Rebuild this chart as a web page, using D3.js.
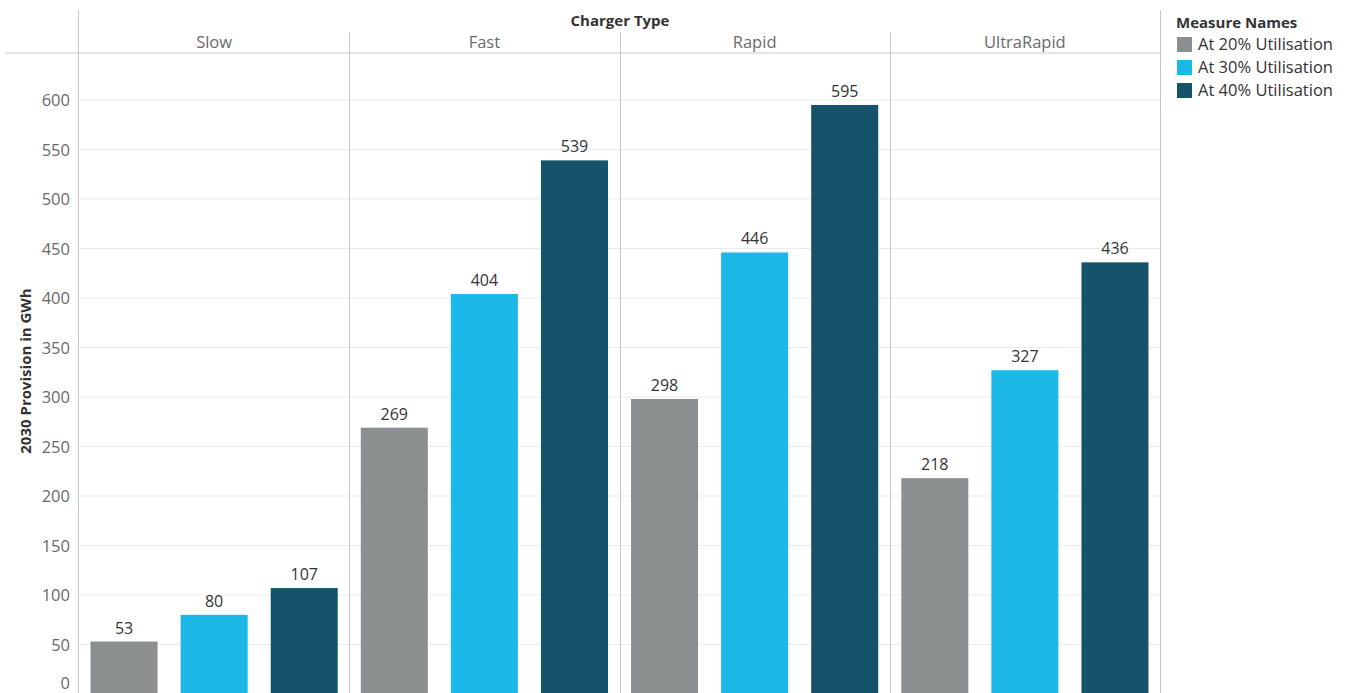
<!DOCTYPE html>
<html>
<head>
<meta charset="utf-8">
<script src="https://cdn.jsdelivr.net/npm/d3@7"></script>
<style>
  body { margin: 0; background: #fff; }
  text { font-family: "Open Sans", "Noto Sans", sans-serif; }
</style>
</head>
<body>
<svg id="chart" width="1351" height="693"></svg>
<script>
let chargerTypes = ["Slow", "Fast", "Rapid", "UltraRapid"];
let measures = ["At 20% Utilisation", "At 30% Utilisation", "At 40% Utilisation"];
let at20 = [53, 269, 298, 218];
let at30 = [80, 404, 446, 327];
let at40 = [107, 539, 595, 436];
let yTicks = [0, 50, 100, 150, 200, 250, 300, 350, 400, 450, 500, 550, 600];

let width = 1351, height = 693;
let svg = d3.select("#chart");

let seriesValues = [at20, at30, at40];
let rows = [];
chargerTypes.forEach(function(c, i){
  measures.forEach(function(m, j){
    rows.push({type: c, measure: m, value: seriesValues[j][i]});
  });
});

let scales = {
  panel: d3.scaleBand().domain(chargerTypes).range([79, 1160]).padding(0),
  color: d3.scaleOrdinal().domain(measures).range(["#8c8f90", "#1bb8e8", "#14536a"]),
  y: d3.scaleLinear().domain([0, 600]).range([694, 100])
};
let inner = d3.scaleBand().domain(measures).range([0, scales.panel.bandwidth()])
  .paddingInner(0.256).paddingOuter(0.128);

// gridlines
svg.selectAll(".grid")
  .data(yTicks.filter(d => d > 0))
  .enter()
  .append("line")
  .attr("class", "grid")
  .attr("x1", 79).attr("x2", 1160)
  .attr("y1", d => scales.y(d)).attr("y2", d => scales.y(d))
  .style("stroke", "#ebebeb")
  .style("stroke-width", 1);

// frame lines
svg.append("line").attr("x1", 5).attr("x2", 1161).attr("y1", 53).attr("y2", 53)
  .style("stroke", "#c8c8c8");
svg.append("line").attr("x1", 78.5).attr("x2", 78.5).attr("y1", 10).attr("y2", height)
  .style("stroke", "#c8c8c8");
svg.append("line").attr("x1", 1160.5).attr("x2", 1160.5).attr("y1", 10).attr("y2", height)
  .style("stroke", "#c8c8c8");
svg.selectAll(".divider")
  .data(chargerTypes.slice(1))
  .enter()
  .append("line")
  .attr("class", "divider")
  .attr("x1", d => Math.round(scales.panel(d)) + 0.5)
  .attr("x2", d => Math.round(scales.panel(d)) + 0.5)
  .attr("y1", 32).attr("y2", height)
  .style("stroke", "#c8c8c8");

// headers
svg.append("text")
  .attr("x", 620).attr("y", 26)
  .attr("text-anchor", "middle")
  .style("font-size", "15px").style("font-weight", "bold").style("fill", "#333")
  .text("Charger Type");

svg.selectAll(".panel-label")
  .data(chargerTypes)
  .enter()
  .append("text")
  .attr("class", "panel-label")
  .attr("x", d => scales.panel(d) + scales.panel.bandwidth() / 2)
  .attr("y", 48)
  .attr("text-anchor", "middle")
  .style("font-size", "16.5px").style("fill", "#6a6a6a")
  .text(d => d);

// y tick labels
svg.selectAll(".ytick")
  .data(yTicks)
  .enter()
  .append("text")
  .attr("class", "ytick")
  .attr("x", 70)
  .attr("y", d => d == 0 ? 689 : scales.y(d) + 6)
  .attr("text-anchor", "end")
  .style("font-size", "16.5px").style("fill", "#6a6a6a")
  .text(d => d);

svg.append("text")
  .attr("transform", "translate(31," + 371 + ") rotate(-90)")
  .attr("text-anchor", "middle")
  .style("font-size", "15px").style("font-weight", "bold").style("fill", "#333")
  .text("2030 Provision in GWh");

// bars
let bars = svg.selectAll(".bar")
  .data(rows)
  .enter()
  .append("g")
  .attr("class", "bar")
  .attr("transform", d => "translate(" + (scales.panel(d.type) + inner(d.measure)) + ",0)");

bars.append("rect")
  .attr("x", 0)
  .attr("width", inner.bandwidth())
  .attr("y", d => scales.y(d.value))
  .attr("height", d => scales.y(0) - scales.y(d.value))
  .style("fill", d => scales.color(d.measure));

bars.append("text")
  .attr("x", inner.bandwidth() / 2)
  .attr("y", d => scales.y(d.value) - 8)
  .attr("text-anchor", "middle")
  .style("font-size", "16px").style("fill", "#333")
  .text(d => d.value);

// legend
let legend = svg.append("g").attr("transform", "translate(1176,0)");
legend.append("text")
  .attr("x", 0).attr("y", 28)
  .style("font-size", "15px").style("font-weight", "bold").style("fill", "#333")
  .text("Measure Names");
let items = legend.selectAll(".legend-item")
  .data(measures)
  .enter()
  .append("g")
  .attr("class", "legend-item")
  .attr("transform", (d, i) => "translate(0," + (37 + i * 23) + ")");
items.append("rect")
  .attr("x", 1).attr("y", 0).attr("width", 15).attr("height", 15)
  .style("fill", d => scales.color(d));
items.append("text")
  .attr("x", 22).attr("y", 13)
  .style("font-size", "16.5px").style("fill", "#333")
  .text(d => d);
</script>
</body>
</html>
